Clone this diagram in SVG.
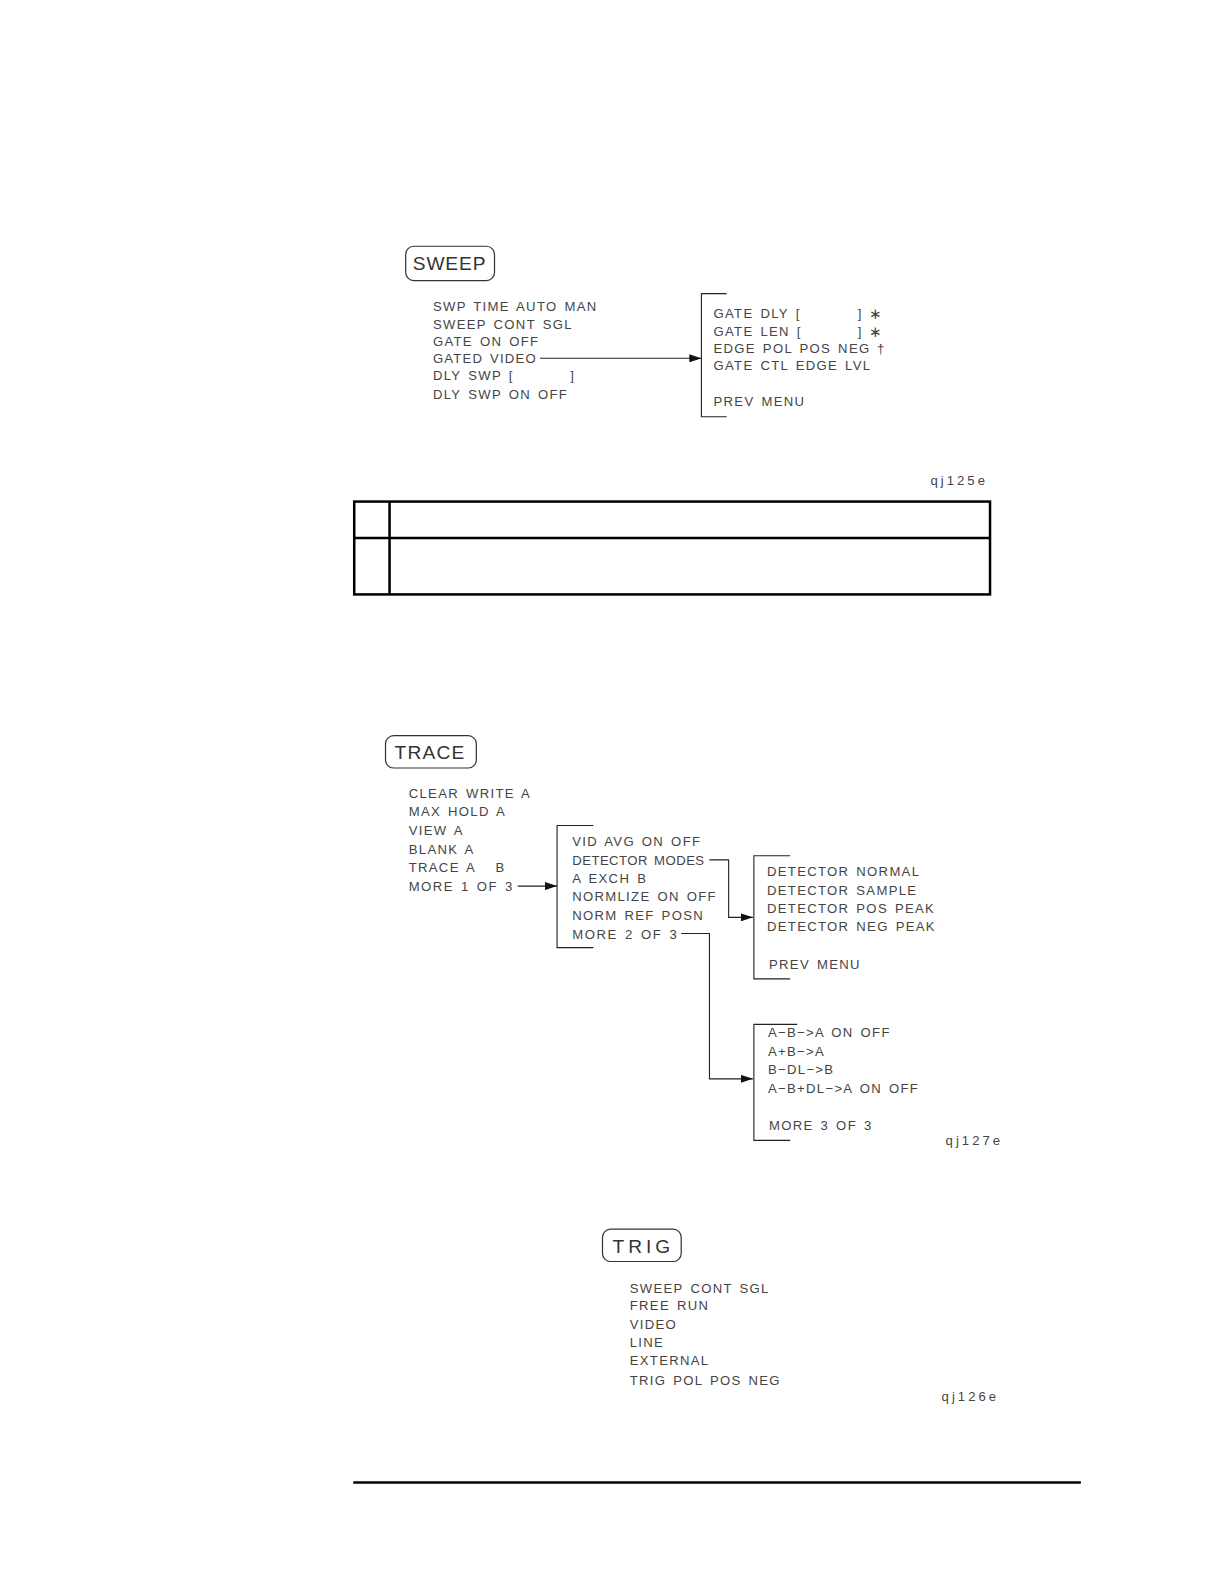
<svg xmlns="http://www.w3.org/2000/svg" width="1224" height="1582" viewBox="0 0 1224 1582">
<style>
text{font-family:"Liberation Sans",Arial,sans-serif;fill:#444}
.t{font-size:13px;letter-spacing:1.3px;word-spacing:2px}
.k{font-size:19px;fill:#333}
.id{font-size:13px;letter-spacing:3px}
.st{font-size:15px}
.ln{fill:none;stroke:#222;stroke-width:1.1}
.key{fill:none;stroke:#333;stroke-width:1.2}
.thick{fill:none;stroke:#000;stroke-width:2.5}
</style>
<defs>
<marker id="ah" viewBox="0 0 12 8" refX="12" refY="4" markerWidth="12" markerHeight="8" markerUnits="userSpaceOnUse" orient="auto">
<path d="M0,0 L12,4 L0,8 Z" fill="#111"/>
</marker>
</defs>
<rect width="1224" height="1582" fill="#fff"/>
<g transform="scale(1.0092)">

<g id="sweep-key"><rect class="key" x="402" y="244" width="88" height="34" rx="8"/><text class="k" x="409" y="268" textLength="72" lengthAdjust="spacing">SWEEP</text></g>
<g id="sweep-menu1">
<text class="t" x="429" y="308">SWP TIME AUTO MAN</text>
<text class="t" x="429" y="326">SWEEP CONT SGL</text>
<text class="t" x="429" y="343">GATE ON OFF</text>
<text class="t" x="429" y="360" textLength="103" lengthAdjust="spacing">GATED VIDEO</text>
<text class="t" x="429" y="377">DLY SWP [</text><text class="t" x="565" y="377">]</text>
<text class="t" x="429" y="395">DLY SWP ON OFF</text>
</g>
<g id="gate-menu">
<path class="ln" d="M720,291 H695 V413 H720"/>
<text class="t" x="707" y="315">GATE DLY [</text><text class="t" x="850" y="315">]</text><text class="st" x="861" y="316">∗</text>
<text class="t" x="707" y="333">GATE LEN [</text><text class="t" x="850" y="333">]</text><text class="st" x="861" y="334">∗</text>
<text class="t" x="707" y="350">EDGE POL POS NEG</text><text class="t" x="869" y="350">†</text>
<text class="t" x="707" y="367">GATE CTL EDGE LVL</text>
<text class="t" x="707" y="402">PREV MENU</text>
</g>
<text class="id" x="922" y="481">qj125e</text>

<g id="table">
<rect class="thick" x="351" y="497" width="630" height="92"/>
<line class="thick" x1="351" y1="533" x2="981" y2="533"/>
<line class="thick" x1="386" y1="497" x2="386" y2="589"/>
</g>

<g id="trace-key"><rect class="key" x="382" y="729" width="90" height="32" rx="8"/><text class="k" x="391" y="752" textLength="69" lengthAdjust="spacing">TRACE</text></g>
<g id="trace-menu1">
<text class="t" x="405" y="791">CLEAR WRITE A</text>
<text class="t" x="405" y="809">MAX HOLD A</text>
<text class="t" x="405" y="827">VIEW A</text>
<text class="t" x="405" y="846">BLANK A</text>
<text class="t" x="405" y="864">TRACE A</text><text class="t" x="491" y="864">B</text>
<text class="t" x="405" y="883" textLength="104" lengthAdjust="spacing">MORE 1 OF 3</text>
</g>
<g id="trace-menu2">
<path class="ln" d="M588,818 H552 V939 H588"/>
<text class="t" x="567" y="838">VID AVG ON OFF</text>
<text class="t" x="567" y="857" textLength="132" lengthAdjust="spacing">DETECTOR MODES</text>
<text class="t" x="567" y="875">A EXCH B</text>
<text class="t" x="567" y="893">NORMLIZE ON OFF</text>
<text class="t" x="567" y="912">NORM REF POSN</text>
<text class="t" x="567" y="930" textLength="105" lengthAdjust="spacing">MORE 2 OF 3</text>
</g>
<g id="detector-menu">
<path class="ln" d="M783,848 H747 V970 H783"/>
<text class="t" x="760" y="868">DETECTOR NORMAL</text>
<text class="t" x="760" y="887">DETECTOR SAMPLE</text>
<text class="t" x="760" y="905">DETECTOR POS PEAK</text>
<text class="t" x="760" y="923">DETECTOR NEG PEAK</text>
<text class="t" x="762" y="960">PREV MENU</text>
</g>
<g id="trace-menu3">
<path class="ln" d="M790,1015 H747 V1130 H783"/>
<text class="t" x="761" y="1028">A−B−&gt;A ON OFF</text>
<text class="t" x="761" y="1046">A+B−&gt;A</text>
<text class="t" x="761" y="1064">B−DL−&gt;B</text>
<text class="t" x="761" y="1083">A−B+DL−&gt;A ON OFF</text>
<text class="t" x="762" y="1120">MORE 3 OF 3</text>
</g>
<text class="id" x="937" y="1135">qj127e</text>

<g id="trig-key"><rect class="key" x="597" y="1218" width="78" height="32" rx="8"/><text class="k" x="607" y="1242" textLength="57" lengthAdjust="spacing">TRIG</text></g>
<g id="trig-menu">
<text class="t" x="624" y="1281">SWEEP CONT SGL</text>
<text class="t" x="624" y="1298">FREE RUN</text>
<text class="t" x="624" y="1317">VIDEO</text>
<text class="t" x="624" y="1335">LINE</text>
<text class="t" x="624" y="1353">EXTERNAL</text>
<text class="t" x="624" y="1372">TRIG POL POS NEG</text>
</g>
<text class="id" x="933" y="1388">qj126e</text>

<line class="thick" x1="350" y1="1469" x2="1071" y2="1469"/>

<g id="connectors">
<path class="ln" d="M535,355 H695" marker-end="url(#ah)"/>
<path class="ln" d="M513,878 H552" marker-end="url(#ah)"/>
<path class="ln" d="M703,852 H722 V909 H746" marker-end="url(#ah)"/>
<path class="ln" d="M675,925 H703 V1069 H746" marker-end="url(#ah)"/>
</g>
</g>
</svg>
